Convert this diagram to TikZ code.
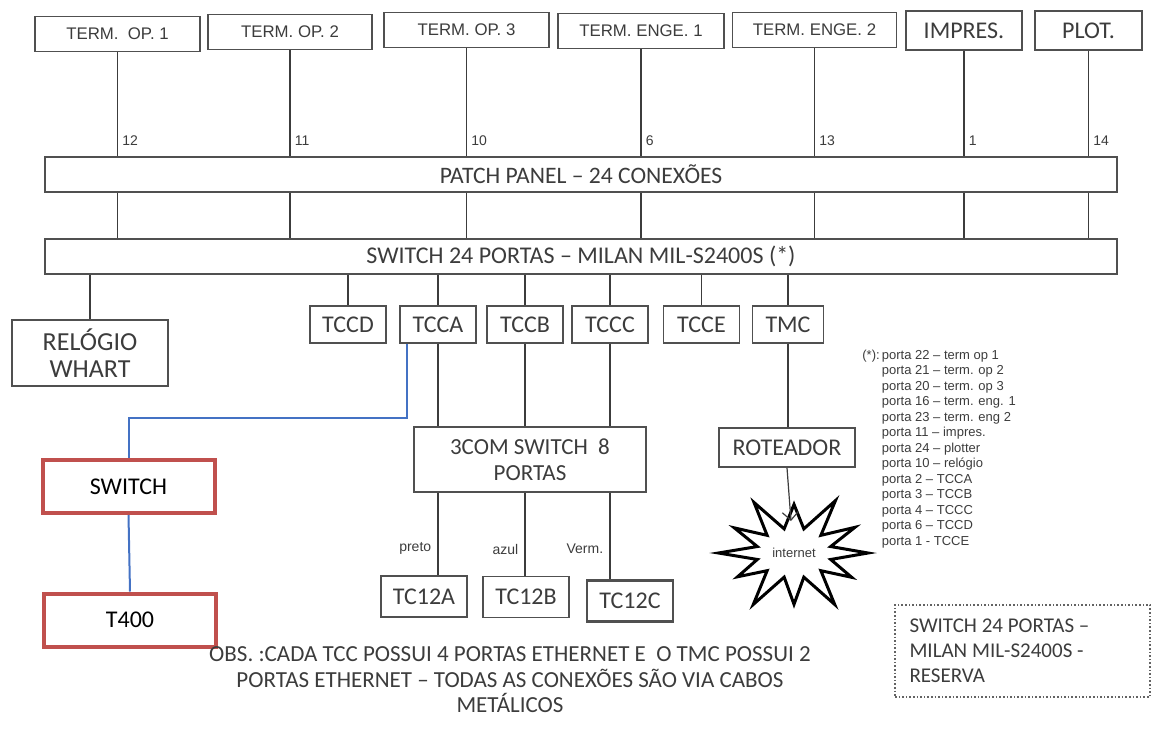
\documentclass[tikz,border=0pt]{standalone}
\usepackage{fontspec}
\setmainfont{Carlito}
\newfontfamily\arialfont{Liberation Sans}
\usepackage{xcolor}
\usetikzlibrary{positioning,arrows.meta,calc}
\definecolor{boxred}{HTML}{C0504D}
\definecolor{linkblue}{HTML}{4472C4}
\definecolor{inkgray}{HTML}{3C3C3C}

\begin{document}
\begin{tikzpicture}[x=0.5pt, y=-0.5pt, >={Straight Barb[length=4pt]}]
  \tikzset{
    box/.style={draw=inkgray!90,line width=0.8pt,inner sep=0pt,text=inkgray,
                font=\fontsize{12}{13}\selectfont},
    term/.style={box,minimum height=17.5pt,font=\arialfont\fontsize{8.4}{9}\selectfont},
    bar/.style={box,minimum width=536pt,minimum height=17.5pt,
                font=\fontsize{11.8}{13}\selectfont},
    tcc/.style={box,minimum width=38pt,minimum height=18.5pt},
    tcx/.style={box,minimum width=43pt,minimum height=20.5pt},
    redbox/.style={draw=boxred,line width=2pt,minimum width=86pt,
                   minimum height=26.5pt,font=\fontsize{12}{14}\selectfont},
    wire/.style={draw=inkgray,line width=0.8pt},
    bluewire/.style={draw=linkblue,line width=1pt},
    port/.style={font=\arialfont\fontsize{7}{8}\selectfont,text=inkgray,
                 anchor=south west,inner sep=2pt,yshift=3pt},
    cor/.style={font=\arialfont\fontsize{7}{8}\selectfont,text=inkgray,
                anchor=east,inner sep=3pt}
  }
  \useasboundingbox (0,0) rectangle (1152,740);
  % Terminals on top
  \node[term,minimum width=82.5pt] (op1) at (117.5,34) {TERM.\ \ OP. 1};
  \node[term,minimum width=82pt]   (op2) at (290,32)   {TERM. OP. 2};
  \node[term,minimum width=82.5pt] (op3) at (466.5,30) {TERM. OP. 3};
  \node[term,minimum width=83pt]   (eng1) at (641,31)  {TERM. ENGE. 1};
  \node[term,minimum width=82pt]   (eng2) at (814.5,30) {TERM. ENGE. 2};
  \node[box,minimum width=58pt,minimum height=19.5pt] (imp) at (964,30.5) {IMPRES.};
  \node[box,minimum width=53.5pt,minimum height=19.5pt] (plot) at (1088.5,30.5) {PLOT.};
  % Patch panel and main switch
  \node[bar] (panel) at (581,174.5) {PATCH PANEL – 24 CONEXÕES};
  \node[bar,font=\fontsize{12}{13}\selectfont] (sw) at (581,256.5)
    {SWITCH 24 PORTAS – MILAN MIL-S2400S (*)};
  \foreach \n/\p in {op1/12,op2/11,op3/10,eng1/6,eng2/13,imp/1,plot/14}{
    \draw[wire] (\n.south) -- (\n.south |- panel.north) node[port] {\p};
    \draw[wire] (\n.south |- panel.south) -- (\n.south |- sw.north);
  }
  % Equipment below the switch
  \node[box,minimum width=78pt,minimum height=33pt,align=center,
        font=\fontsize{13}{13.5}\selectfont] (rel) at (90,353) {RELÓGIO\\WHART};
  \node[tcc] (tccd) at (348,324.5) {TCCD}; \node[tcc] (tcca) at (438,324.5) {TCCA};
  \node[tcc] (tccb) at (525,324.5) {TCCB}; \node[tcc] (tccc) at (610,324.5) {TCCC};
  \node[tcc] (tcce) at (701.5,324.5) {TCCE};
  \node[tcc,minimum width=35.5pt] (tmc) at (788,324.5) {TMC};
  \foreach \n in {rel,tccd,tcca,tccb,tccc,tcce,tmc}
    \draw[wire] (\n.north |- sw.south) -- (\n.north);
  % 3Com switch and its terminals
  \node[box,minimum width=116pt,minimum height=32.5pt,align=center,
        font=\fontsize{11.5}{13}\selectfont] (com3) at (530,459.5) {3COM SWITCH\ \ 8\\PORTAS};
  \foreach \n in {tcca,tccb,tccc}
    \draw[wire] (\n.south) -- (\n.south |- com3.north);
  \node[tcx] (tc12a) at (424,596.5) {TC12A};
  \node[tcx] (tc12b) at (526,597) {TC12B};
  \node[tcx,line width=1.1pt] (tc12c) at (630,601) {TC12C};
  \draw[wire] (com3.south -| tcca) -- (tcca |- tc12a.north) node[cor,pos=0.68] {preto};
  \draw[wire] (com3.south -| tccb) -- (tccb |- tc12b.north) node[cor,pos=0.68] {azul};
  \draw[wire] (com3.south -| tccc) -- (tccc |- tc12c.north) node[cor,pos=0.65] {Verm.};
  % Router and internet
  \node[box,minimum width=68pt,minimum height=19.5pt] (rot) at (787,447.5) {ROTEADOR};
  \draw[wire] (tmc.south) -- (tmc.south |- rot.north);
  \draw[line width=1.5pt,line join=miter,miter limit=12]
    ({794+38*cos(-15)},{553+25*sin(-15)})
    \foreach \a/\f in {0/1.0,30/0.9,60/1.1,90/0.95,120/1.1,150/0.88,
                       180/1.02,210/0.93,240/1.08,270/0.9,300/1.12,330/0.95}
      { -- ({794+74*\f*cos(\a)},{553+54*\f*sin(\a)})
        -- ({794+38*cos(\a+15)},{553+25*sin(\a+15)}) } -- cycle;
  \node[font=\arialfont\fontsize{6.5}{7}\selectfont,text=inkgray] (inet) at (794,553) {internet};
  \coordinate (inettip) at (791,521);
  \draw[wire,line width=0.6pt,->] (rot.south) -- (inettip);
  % T400 branch
  \node[redbox] (sw2) at (128.5,486.5) {SWITCH};
  \node[redbox] (t400) at (130,620) {T400};
  \draw[bluewire] ([xshift=4pt]tcca.south west) -- ++(0,74) -| (sw2.north);
  \draw[bluewire] (sw2.south) -- (t400.north);
  % Port list
  \node[anchor=north west,inner sep=0pt,text=inkgray,
        font=\arialfont\fontsize{6.5}{7.75}\selectfont] (legend) at (862,348)
    {\begin{tabular}{@{}l@{\,}l@{}}
      (*): & porta 22 – term op 1\\
      & porta 21 – term. op 2\\
      & porta 20 – term. op 3\\
      & porta 16 – term. eng. 1\\
      & porta 23 – term. eng 2\\
      & porta 11 – impres.\\
      & porta 24 – plotter\\
      & porta 10 – relógio\\
      & porta 2 – TCCA\\
      & porta 3 – TCCB\\
      & porta 4 – TCCC\\
      & porta 6 – TCCD\\
      & porta 1 - TCCE
    \end{tabular}};
  % Spare switch
  \node[draw=inkgray!80,densely dotted,line width=0.8pt,text=inkgray,
        minimum width=127.5pt,minimum height=46pt,text width=113pt,align=flush left,
        inner xsep=7pt,font=\fontsize{10.5}{12.5}\selectfont] (reserve) at (1022.5,651)
    {SWITCH 24 PORTAS –\\MILAN MIL-S2400S -\\RESERVA};
  % Note
  \node[align=center,text=inkgray,font=\fontsize{11.5}{12.75}\selectfont] (obs) at (510,680)
    {OBS. :CADA TCC POSSUI 4 PORTAS ETHERNET E\ \ O TMC POSSUI 2\\
     PORTAS ETHERNET – TODAS AS CONEXÕES SÃO VIA CABOS\\METÁLICOS};
\end{tikzpicture}
\end{document}
